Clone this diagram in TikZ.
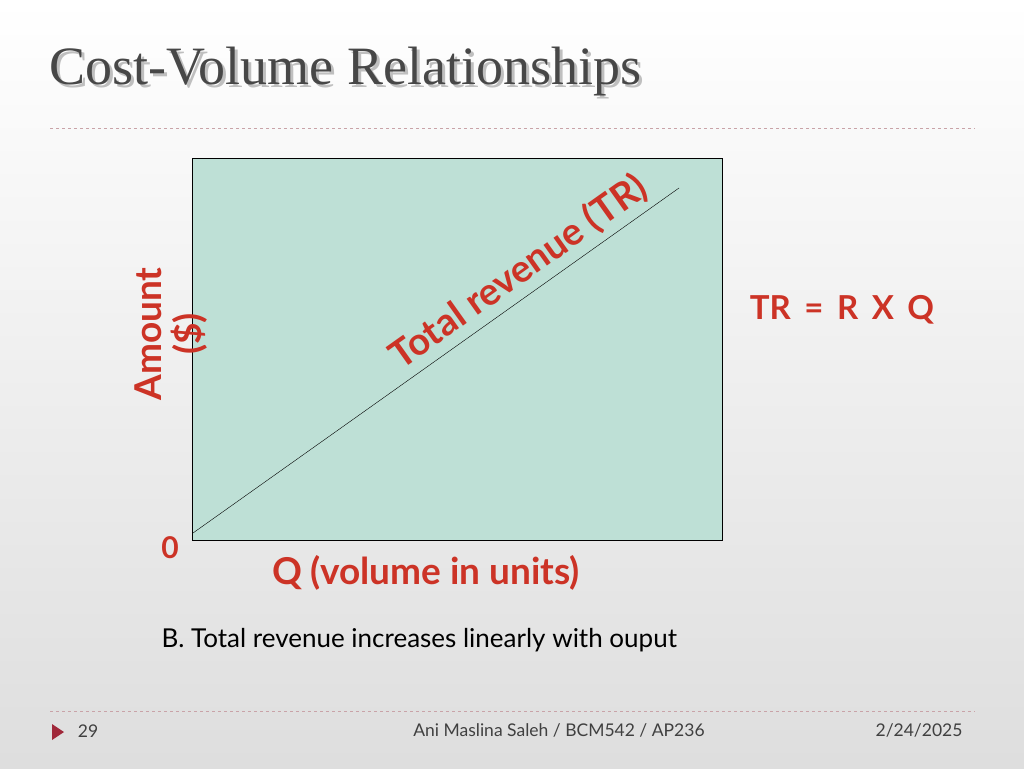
\documentclass[tikz,border=0pt]{standalone}
\usepackage{fontspec}
\setsansfont{Lato}
\newfontfamily\titlefont{Liberation Serif}
\usetikzlibrary{shadows}
\definecolor{redt}{HTML}{CC3326}
\definecolor{boxfill}{HTML}{BEE0D6}
\definecolor{dashc}{HTML}{C9A3A8}
\definecolor{tri}{HTML}{A0283A}
\tikzset{lab/.style={font=\sffamily\bfseries, text=redt},
 foot/.style={font=\sffamily\fontsize{17.5}{20}\selectfont, text=black!75}}
\begin{document}
\begin{tikzpicture}[x=1pt,y=-1pt]
\shade[top color=white,bottom color=black!13] (0,0) rectangle (1024,768);
\useasboundingbox (0,0) rectangle (1024,768);
\node[anchor=west,font=\titlefont\fontsize{54}{60}\selectfont,text=black!25] (titles) at (49,75) {Cost-Volume Relationships};
\node[anchor=west,font=\titlefont\fontsize{54}{60}\selectfont,text=black!72] (title) at (46,72) {Cost-Volume Relationships};
\draw[dashc,dashed] (50,128) -- (975,128);
\node[draw=black,fill=boxfill,minimum width=530,minimum height=382,inner sep=0,anchor=north west] (box) at (192,158) {};
\coordinate (p0) at (193,533);
\coordinate (p1) at (679,188);
\draw (p0) -- (p1);
\node[lab,font=\sffamily\bfseries\fontsize{38}{44}\selectfont,rotate=35.4] (tr) at (519,272) {Total revenue (TR)};
\node[lab,font=\sffamily\bfseries\fontsize{37}{42}\selectfont,rotate=90,align=center] (amt) at (171,334) {Amount\\[-2pt](\$)};
\node[lab,font=\sffamily\bfseries\fontsize{30}{34}\selectfont] (zero) at (170,548) {0};
\node[lab,font=\sffamily\bfseries\fontsize{37}{42}\selectfont] (q) at (426,573) {Q (volume in units)};
\node[lab,font=\sffamily\bfseries\fontsize{33}{38}\selectfont] (f) at (842,310) {TR\, =\, R\, X\, Q};
\node[anchor=west,font=\sffamily\fontsize{26}{30}\selectfont] (cap) at (158,640) {B.\ Total revenue increases linearly with ouput};
\draw[dashc,dashed] (50,711) -- (975,711);
\fill[tri] (52,724) -- (64,732) -- (52,740) -- cycle;
\node[foot] (n) at (88,731) {29};
\node[foot] (c) at (559,730) {Ani Maslina Saleh / BCM542 / AP236};
\node[foot,anchor=east] (d) at (966,730) {2/24/2025};
\end{tikzpicture}
\end{document}
